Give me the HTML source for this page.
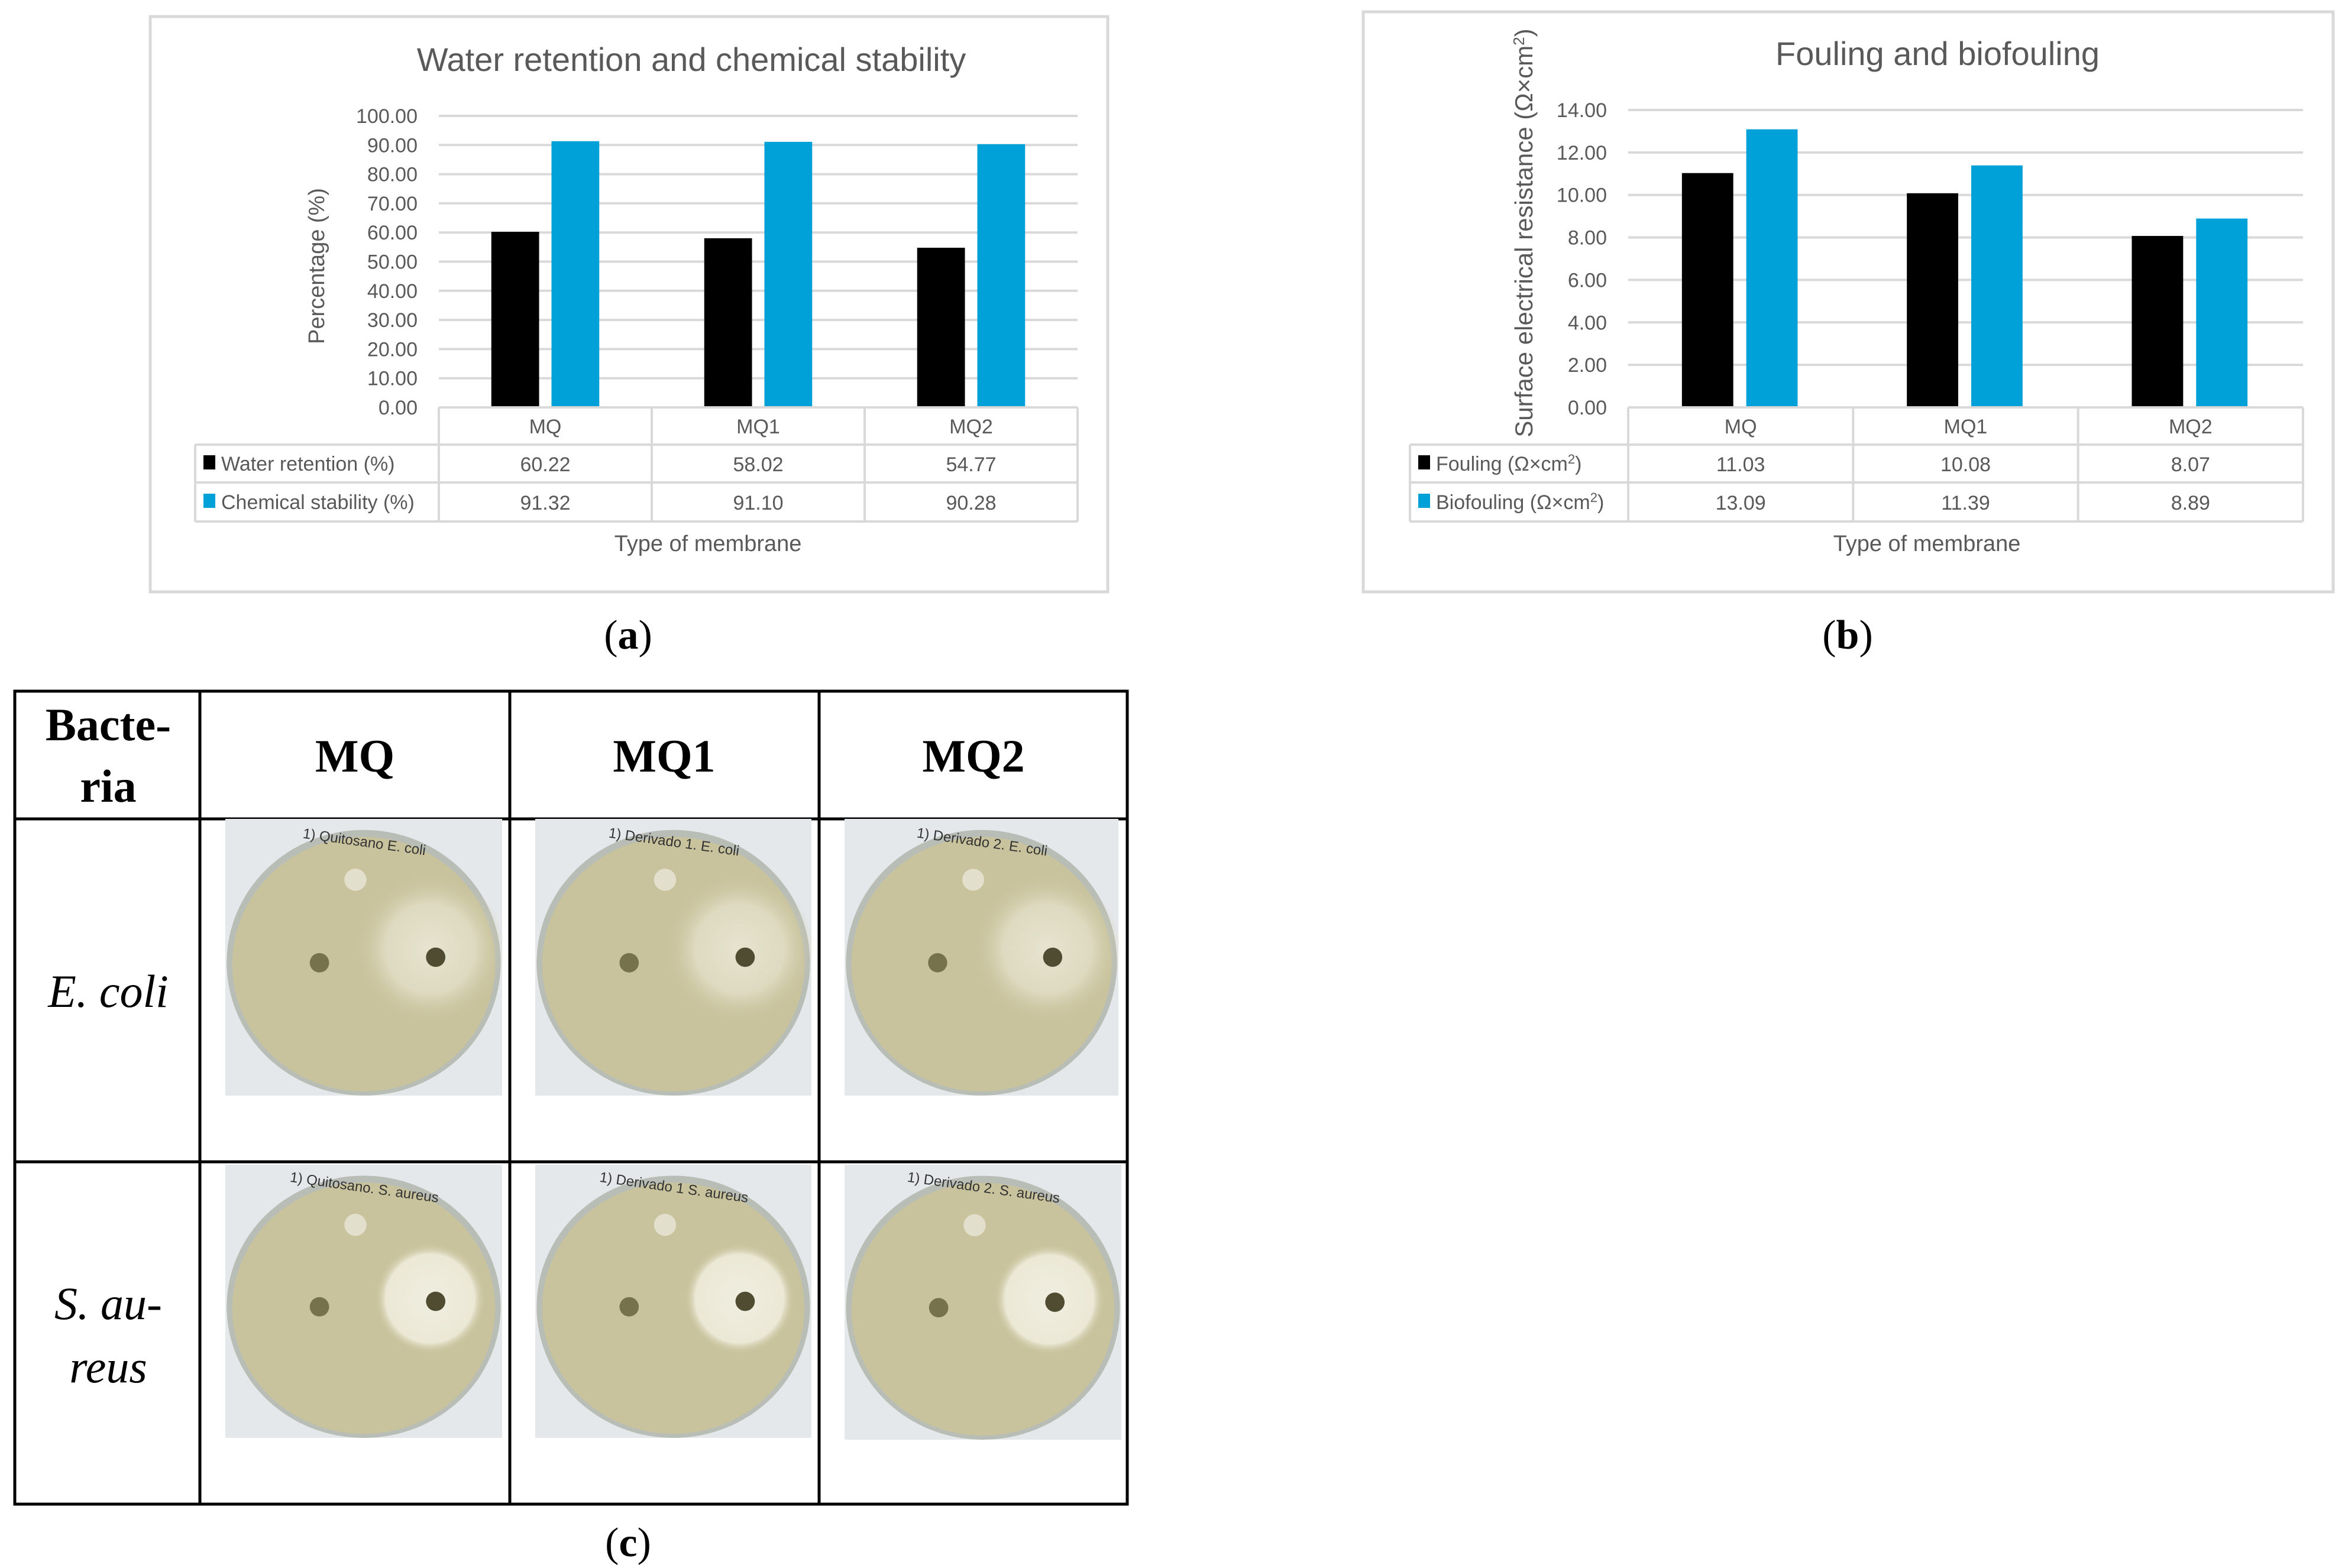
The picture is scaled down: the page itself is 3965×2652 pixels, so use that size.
<!DOCTYPE html>
<html><head><meta charset="utf-8"><style>
body{margin:0;background:#fff;}
svg text{font-family:"Liberation Sans",sans-serif;}
.serif{font-family:"Liberation Serif",serif!important;}
</style></head><body>
<svg id="root" width="3965" height="2647" viewBox="0 0 3965 2647" xmlns="http://www.w3.org/2000/svg">
<defs>
<radialGradient id="zoneE"><stop offset="0" stop-color="#e6e3cf"/><stop offset="0.6" stop-color="#dedac0"/><stop offset="1" stop-color="#c9c39d" stop-opacity="0"/></radialGradient>
<radialGradient id="zoneS"><stop offset="0" stop-color="#f0eee0"/><stop offset="0.8" stop-color="#ebe8d6"/><stop offset="1" stop-color="#c9c39d" stop-opacity="0"/></radialGradient>
</defs>
<g id="chartA"></g>
<g id="chartB"></g>
<g id="tableC"></g>
</svg>
<script>
const NS="http://www.w3.org/2000/svg";
// Chart (a) data
const catsA=["MQ","MQ1","MQ2"];
const waterRetention=[60.22,58.02,54.77];
const chemStability=[91.32,91.10,90.28];
const ticksA=[0,10,20,30,40,50,60,70,80,90,100];
// Chart (b) data
const catsB=["MQ","MQ1","MQ2"];
const fouling=[11.03,10.08,8.07];
const biofouling=[13.09,11.39,8.89];
const ticksB=[0,2,4,6,8,10,12,14];

function mk(parent,tag,attrs,text){const e=document.createElementNS(NS,tag);for(const k in attrs)e.setAttribute(k,attrs[k]);if(text!==undefined)e.textContent=text;parent.appendChild(e);return e;}

function chart(g,o){
  let e;
  e=mk(g,'rect',{x:o.box[0],y:o.box[1],width:o.box[2]-o.box[0],height:o.box[3]-o.box[1],fill:'#fff',stroke:'#d9d9d9','stroke-width':5});
  
  
  e=mk(g,'text',{x:o.titleX,y:o.titleY,'font-size':56,fill:'#595959','text-anchor':'middle'},o.title);
  
  
  const x0=o.px0,x1=o.px1,yb=o.py0,yt=o.py1,max=o.ticks[o.ticks.length-1];
  const ys=v=>yb-(v/max)*(yb-yt);
  o.ticks.forEach(t=>{
    let l=mk(g,'line',{x1:x0,x2:x1,y1:ys(t),y2:ys(t),stroke:'#d9d9d9','stroke-width':4});
    
    
    let tx=mk(g,'text',{x:x0-36,y:ys(t)+12,'font-size':34,fill:'#595959','text-anchor':'end'},t.toFixed(2));
    
    
  });
  const gw=(x1-x0)/o.cats.length;
  const bw=gw*o.bwf, off=gw*o.offf, gap=gw*o.gapf;
  o.cats.forEach((c,i)=>{
    const gx=x0+gw*i;
    let b=mk(g,'rect',{x:gx+off,y:ys(o.s1[i]),width:bw,height:yb-ys(o.s1[i]),fill:'#000'});
    
    
    b=mk(g,'rect',{x:gx+off+bw+gap,y:ys(o.s2[i]),width:bw,height:yb-ys(o.s2[i]),fill:'#00a0d8'});
    
    
  });
  const rows=[yb,752,816,882];
  const lg='#d9d9d9';
  [[x0,rows[0],x1,rows[0]],[x0,rows[1],x1,rows[1]],[o.lx,rows[1],x1,rows[1]],[o.lx,rows[2],x1,rows[2]],[o.lx,rows[3],x1,rows[3]],[o.lx,rows[1],o.lx,rows[3]],[x1,rows[0],x1,rows[3]]].forEach(a=>{
    let l=mk(g,'line',{x1:a[0],y1:a[1],x2:a[2],y2:a[3],stroke:lg,'stroke-width':4});
    
    
  });
  for(let i=0;i<o.cats.length;i++){
    let l=mk(g,'line',{x1:x0+gw*i,y1:rows[0],x2:x0+gw*i,y2:rows[3],stroke:lg,'stroke-width':4});
    
    
    const cx=x0+gw*(i+0.5);
    let t=mk(g,'text',{x:cx,y:733,'font-size':34,fill:'#595959','text-anchor':'middle'},o.cats[i]);
    
    
    t=mk(g,'text',{x:cx,y:797,'font-size':34,fill:'#595959','text-anchor':'middle'},o.s1[i].toFixed(2));
    
    
    t=mk(g,'text',{x:cx,y:862,'font-size':34,fill:'#595959','text-anchor':'middle'},o.s2[i].toFixed(2));
    
    
  }
  [[o.l1,'#000',784,o.n1],[o.l2,'#00a0d8',849,o.n2]].forEach(r=>{
    let s=mk(g,'rect',{x:o.lx+14,y:r[2]-14,width:20,height:24,fill:r[1]});
    
    
    let t=mk(g,'text',{x:o.lx+44,y:r[2]+12,'font-size':34,fill:'#595959'});
    t.innerHTML=r[0];
    
    
  });
  let t=mk(g,'text',{x:o.ytX,y:o.ytY,'font-size':o.ytSize,fill:'#595959','text-anchor':'middle',transform:`rotate(-90 ${o.ytX} ${o.ytY})`});
  t.innerHTML=o.yTitle;
  
  
  t=mk(g,'text',{x:o.xtX,y:932,'font-size':38,fill:'#595959','text-anchor':'middle'},'Type of membrane');
  
  
  t=mk(g,'text',{x:o.capX,y:1097,'font-size':70,fill:'#000','text-anchor':'middle',class:'serif'});
  t.innerHTML='(<tspan font-weight="bold">'+o.cap+'</tspan>)';
  
  
}

chart(document.getElementById('chartA'),{box:[254,28,1873,1001],title:'Water retention and chemical stability',titleX:1169,titleY:120,
 px0:742,px1:1822,py0:689,py1:196,ticks:ticksA,cats:catsA,s1:waterRetention,s2:chemStability,n1:'water-retention',n2:'chemical-stability',
 bwf:81/361,offf:89/361,gapf:21/361,lx:330,l1:'Water retention (%)',l2:'Chemical stability (%)',ytX:548,ytY:450,ytSize:38,yTitle:'Percentage (%)',xtX:1197,capX:1062,cap:'a'});
chart(document.getElementById('chartB'),{box:[2305,20,3945,1001],title:'Fouling and biofouling',titleX:3276,titleY:110,
 px0:2753,px1:3894,py0:689,py1:186,ticks:ticksB,cats:catsB,s1:fouling,s2:biofouling,n1:'fouling',n2:'biofouling',
 bwf:87/381,offf:91/381,gapf:22/381,lx:2384,l1:'Fouling (Ω×cm<tspan dy="-12" font-size="22">2</tspan><tspan dy="12">)</tspan>',l2:'Biofouling (Ω×cm<tspan dy="-12" font-size="22">2</tspan><tspan dy="12">)</tspan>',
 ytX:2591,ytY:394,ytSize:42,yTitle:'Surface electrical resistance (Ω×cm<tspan dy="-14" font-size="26">2</tspan><tspan dy="14">)</tspan>',xtX:3258,capX:3124,cap:'b'});

const tg=document.getElementById('tableC');
let e;
e=mk(tg,'rect',{x:25,y:1169,width:1881,height:1375,fill:'#fff',stroke:'#000','stroke-width':5});


[338,862,1385].forEach(x=>{let l=mk(tg,'line',{x1:x,x2:x,y1:1169,y2:2544,stroke:'#000','stroke-width':5});});
[1385,1965].forEach(y=>{let l=mk(tg,'line',{x1:25,x2:1906,y1:y,y2:y,stroke:'#000','stroke-width':5});});
function st(x,y,s,txt,name,it){let t=mk(tg,'text',{x:x,y:y,'font-size':78,'text-anchor':'middle',class:'serif','font-weight':it?'normal':'bold','font-style':it?'italic':'normal'},txt);}
st(183,1252,78,'Bacte-','header-bacteria');
st(183,1356,78,'ria','header-bacteria');
st(600,1305,78,'MQ','header-mq');
st(1123,1305,78,'MQ1','header-mq1');
st(1646,1305,78,'MQ2','header-mq2');
st(183,1703,78,'E. coli','row-label-e-coli',true);
st(183,2231,78,'S. au-','row-label-s-aureus',true);
st(183,2338,78,'reus','row-label-s-aureus',true);
let t=mk(tg,'text',{x:1062,y:2632,'font-size':70,'text-anchor':'middle',class:'serif'});
t.innerHTML='(<tspan font-weight="bold">c</tspan>)';



const plates=[
 [381,1385,468,468,'E','1) Quitosano E. coli','plate-mq-e-coli'],
 [905,1385,467,468,'E','1) Derivado 1. E. coli','plate-mq1-e-coli'],
 [1428,1385,463,468,'E','1) Derivado 2. E. coli','plate-mq2-e-coli'],
 [381,1970,468,462,'S','1) Quitosano. S. aureus','plate-mq-s-aureus'],
 [905,1970,467,462,'S','1) Derivado 1 S. aureus','plate-mq1-s-aureus'],
 [1428,1970,468,465,'S','1) Derivado 2. S. aureus','plate-mq2-s-aureus']];
plates.forEach(p=>{
  const [x,y,w,h,k,lab,name]=p;
  const g=mk(tg,'g',{});
  
  
  mk(g,'rect',{x:x,y:y,width:w,height:h,fill:'#e4e8ea'});
  mk(g,'ellipse',{cx:x+w*0.5,cy:y+h*0.52,rx:w*0.495,ry:h*0.48,fill:'#b8bdb6'});
  mk(g,'ellipse',{cx:x+w*0.5,cy:y+h*0.525,rx:w*0.475,ry:h*0.46,fill:'#c9c39d'});
  if(k==='E') mk(g,'circle',{cx:x+w*0.74,cy:y+h*0.47,r:w*0.27,fill:'url(#zoneE)'});
  else mk(g,'circle',{cx:x+w*0.74,cy:y+h*0.49,r:w*0.2,fill:'url(#zoneS)'});
  mk(g,'circle',{cx:x+w*0.47,cy:y+h*0.22,r:w*0.04,fill:'#e2dfcc'});
  mk(g,'circle',{cx:x+w*0.34,cy:y+h*0.52,r:w*0.035,fill:'#76724c'});
  mk(g,'circle',{cx:x+w*0.76,cy:y+h*0.50,r:w*0.035,fill:'#4f4c32'});
  mk(g,'text',{x:x+w*0.5,y:y+h*0.1,'font-size':24,'text-anchor':'middle',fill:'#333',transform:`rotate(8 ${x+w*0.5} ${y+h*0.1})`},lab);
});
</script>
</body></html>
